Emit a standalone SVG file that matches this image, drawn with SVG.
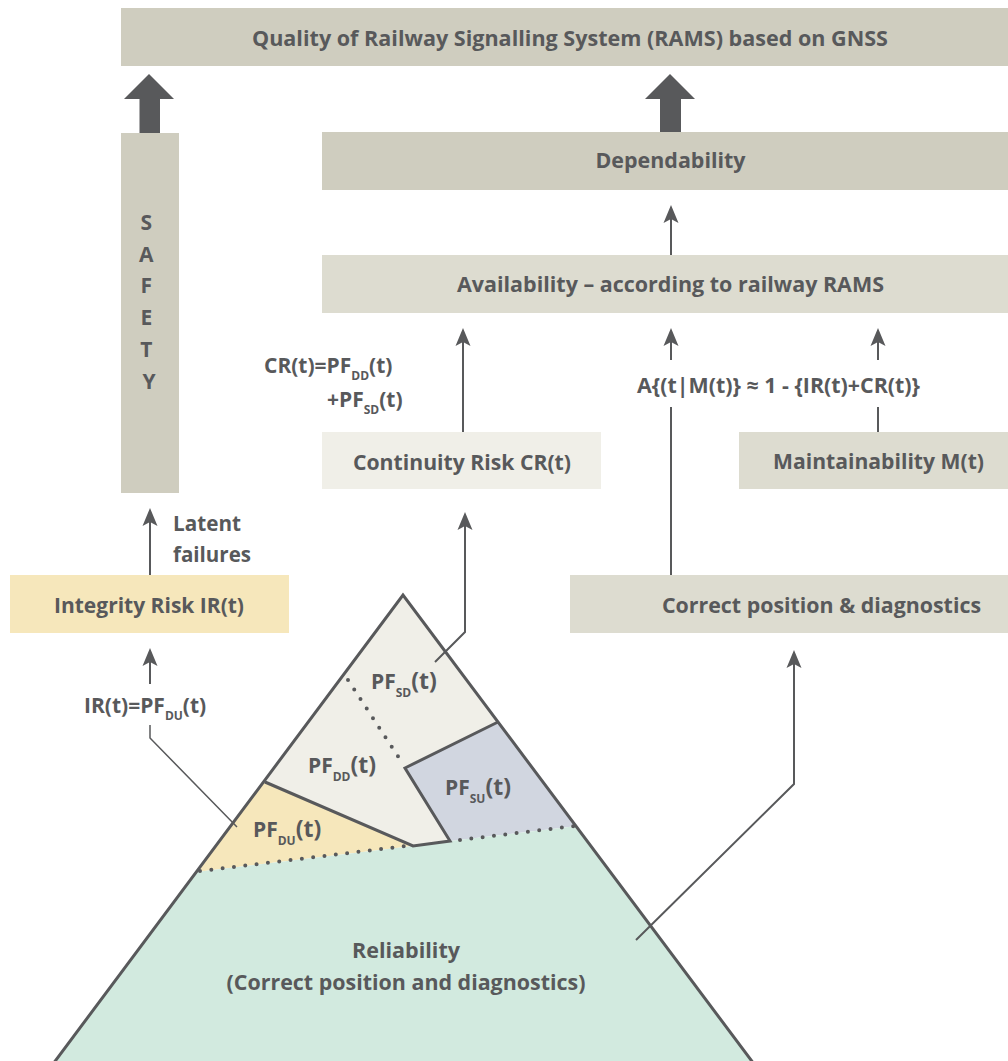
<svg xmlns="http://www.w3.org/2000/svg" width="1008" height="1061" viewBox="0 0 1008 1061">
  <style>
    .t { font-family: "Open Sans", "Noto Sans", "Liberation Sans", sans-serif; font-weight: 700; fill: #58595b; font-size: 21px; }
    .c { text-anchor: middle; }
    .sub { font-size: 12px; }
    .box1 { fill: #cfcdbf; }
    .box2 { fill: #dddcd0; }
    .box3 { fill: #f0efe8; }
    .boxy { fill: #f6e7bb; }
    .ln { fill: none; stroke: #58595b; stroke-width: 2; }
    .thin { fill: none; stroke: #58595b; stroke-width: 1.5; }
    .edge { fill: none; stroke: #58595b; stroke-width: 3; stroke-linejoin: miter; }
    .dots { fill: none; stroke: #58595b; stroke-width: 4; stroke-linecap: round; stroke-dasharray: 0 11.4; }
    .big { fill: #58595b; }
  </style>
  <defs>
    <marker id="arr" markerUnits="userSpaceOnUse" viewBox="0 0 18 16" markerWidth="18" markerHeight="16" refX="14" refY="8" orient="auto">
      <path d="M0,0.5 L18,8 L0,15.5 L4,8 z" fill="#58595b"/>
    </marker>
  </defs>

  <!-- top level -->
  <g id="quality">
    <rect class="box1" x="121" y="8" width="887" height="58"/>
    <text class="t c" x="570" y="46" font-size="20" textLength="636" lengthAdjust="spacingAndGlyphs">Quality of Railway Signalling System (RAMS) based on GNSS</text>
  </g>

  <g id="safety">
    <rect class="box1" x="121" y="133" width="58" height="360"/>
    <text class="t c" x="149" font-size="24">
      <tspan x="149" y="230">S</tspan>
      <tspan x="149" y="262">A</tspan>
      <tspan x="149" y="293">F</tspan>
      <tspan x="149" y="325">E</tspan>
      <tspan x="149" y="357">T</tspan>
      <tspan x="149" y="389">Y</tspan>
    </text>
  </g>

  <g id="dependability">
    <rect class="box1" x="322" y="132" width="686" height="58"/>
    <text class="t c" x="670.5" y="168" textLength="150" lengthAdjust="spacingAndGlyphs">Dependability</text>
  </g>

  <g id="availability">
    <rect class="box2" x="322" y="255" width="686" height="58"/>
    <text class="t c" x="670.5" y="292" textLength="427" lengthAdjust="spacingAndGlyphs">Availability – according to railway RAMS</text>
  </g>

  <g id="continuity">
    <rect class="box3" x="322" y="432" width="279" height="57"/>
    <text class="t c" x="462" y="470" textLength="218" lengthAdjust="spacingAndGlyphs">Continuity Risk CR(t)</text>
  </g>

  <g id="maintainability">
    <rect class="box2" x="739" y="432" width="269" height="57"/>
    <text class="t c" x="878.5" y="469" textLength="211" lengthAdjust="spacingAndGlyphs">Maintainability M(t)</text>
  </g>

  <g id="correct-position">
    <rect class="box2" x="570" y="575" width="438" height="58"/>
    <text class="t c" x="821.5" y="613" textLength="319" lengthAdjust="spacingAndGlyphs">Correct position &amp; diagnostics</text>
  </g>

  <g id="integrity">
    <rect class="boxy" x="10" y="575" width="279" height="58"/>
    <text class="t c" x="149" y="613" textLength="190" lengthAdjust="spacingAndGlyphs">Integrity Risk IR(t)</text>
  </g>

  <!-- pyramid -->
  <g id="pyramid">
    <polygon fill="#f0efe8" points="403,595 265,782 413,846 450,841 405,768 498,722"/>
    <polygon fill="#f6e7bb" points="265,782 196,872 413,846"/>
    <polygon fill="#d1d6e0" points="405,768 498,722 577,826 450,841"/>
    <polygon fill="#d2eadf" points="196,872 413,846 450,841 577,826 757,1068 50,1068"/>
    <polyline class="edge" points="265,782 413,846 450,841 405,768 498,722"/>
    <polyline class="edge" points="50,1068 403,595 757,1068"/>
    <line class="dots" x1="200" y1="871" x2="406" y2="846"/>
    <line class="dots" x1="460" y1="840" x2="575" y2="826"/>
    <line class="dots" x1="348" y1="680" x2="403" y2="764"/>
    <text class="t" x="371" y="689" font-size="23">PF<tspan class="sub" dy="8">SD</tspan><tspan dy="-8" font-size="23">(t)</tspan></text>
    <text class="t" x="308" y="773" font-size="23">PF<tspan class="sub" dy="8">DD</tspan><tspan dy="-8" font-size="23">(t)</tspan></text>
    <text class="t" x="445" y="795" font-size="23">PF<tspan class="sub" dy="8">SU</tspan><tspan dy="-8" font-size="23">(t)</tspan></text>
    <text class="t" x="253" y="837" font-size="23">PF<tspan class="sub" dy="8">DU</tspan><tspan dy="-8" font-size="23">(t)</tspan></text>
    <text class="t c" x="406" y="958" textLength="108" lengthAdjust="spacingAndGlyphs">Reliability</text>
    <text class="t c" x="406" y="990" textLength="359" lengthAdjust="spacingAndGlyphs">(Correct position and diagnostics)</text>
  </g>

  <!-- labels on connectors -->
  <g id="labels">
    <text class="t" x="173" y="531" textLength="68" lengthAdjust="spacingAndGlyphs">Latent</text>
    <text class="t" x="173" y="562" textLength="78" lengthAdjust="spacingAndGlyphs">failures</text>
    <text class="t" x="84" y="713" font-size="22">IR(t)=PF<tspan class="sub" dy="7">DU</tspan><tspan dy="-7">(t)</tspan></text>
    <text class="t" x="264" y="373" font-size="22">CR(t)=PF<tspan class="sub" dy="7">DD</tspan><tspan dy="-7">(t)</tspan></text>
    <text class="t" x="327" y="407" font-size="22">+PF<tspan class="sub" dy="7">SD</tspan><tspan dy="-7">(t)</tspan></text>
    <text class="t" x="637" y="393" textLength="283" lengthAdjust="spacingAndGlyphs">A{(t|M(t)} ≈ 1 - {IR(t)+CR(t)}</text>
  </g>

  <!-- connectors -->
  <g id="connectors">
    <path class="big" d="M149,74 L174,99 L160,99 L160,133 L139.5,133 L139.5,99 L124,99 z"/>
    <path class="big" d="M670,74 L695,99 L681,99 L681,132 L660,132 L660,99 L645,99 z"/>
    <line class="ln" x1="671" y1="255" x2="671" y2="209" marker-end="url(#arr)"/>
    <line class="ln" x1="463" y1="432" x2="463" y2="332" marker-end="url(#arr)"/>
    <line class="ln" x1="671" y1="575" x2="671" y2="407"/>
    <line class="ln" x1="671" y1="360" x2="671" y2="332" marker-end="url(#arr)"/>
    <line class="ln" x1="878" y1="432" x2="878" y2="407"/>
    <line class="ln" x1="878" y1="360" x2="878" y2="332" marker-end="url(#arr)"/>
    <line class="ln" x1="150" y1="575" x2="150" y2="512" marker-end="url(#arr)"/>
    <line class="ln" x1="150" y1="684" x2="150" y2="652" marker-end="url(#arr)"/>
    <polyline class="thin" points="237,827 150,738 150,725"/>
    <polyline class="ln" points="435,662 465,632 465,516" marker-end="url(#arr)"/>
    <polyline class="ln" points="636,940 794,784 794,654" marker-end="url(#arr)"/>
  </g>
</svg>
